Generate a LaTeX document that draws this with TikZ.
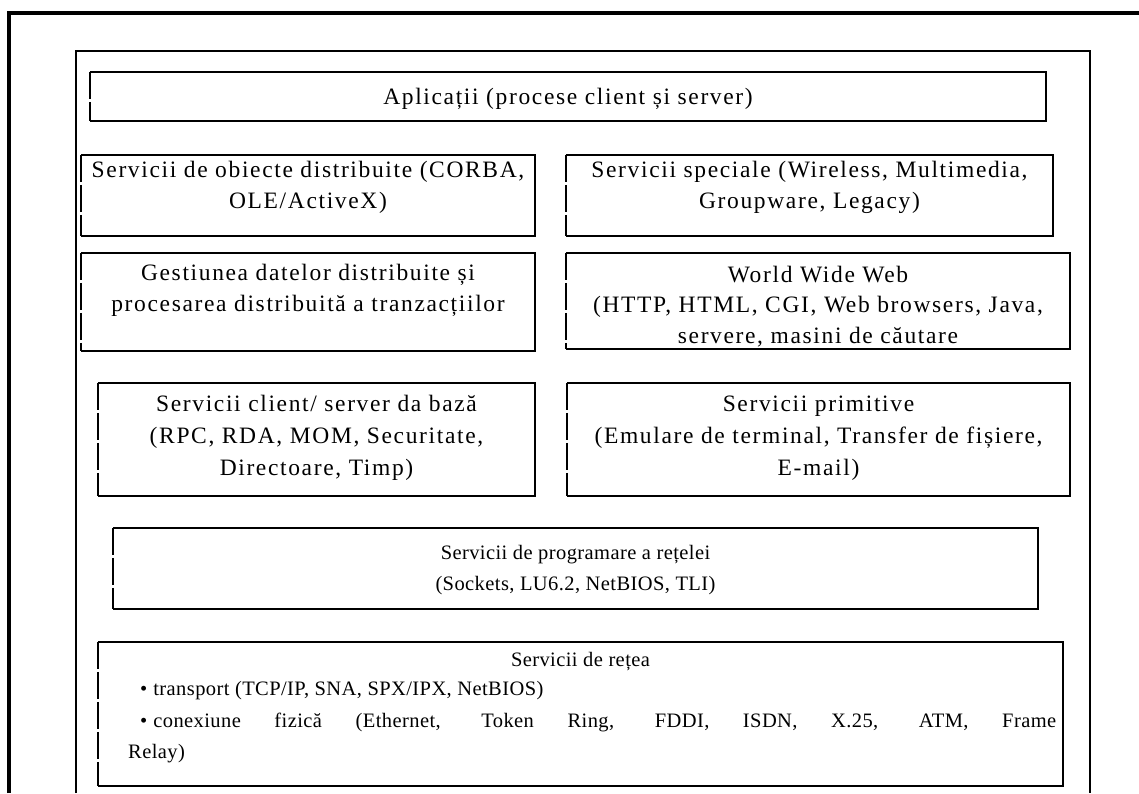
\documentclass[tikz,border=0pt]{standalone}
\usepackage{fontspec}
\setmainfont{Liberation Serif}[LetterSpace=7.0]
\newfontfamily\plainserif{Liberation Serif}[LetterSpace=2.0]
\usetikzlibrary{fit}

\begin{document}
\begin{tikzpicture}[x=1pt,y=-1pt,
  outerframe/.style={line width=4pt},
  innerframe/.style={line width=1.5pt},
  layer/.style={inner sep=0pt},
  edge/.style={line width=1.5pt},
  leftedge/.style={line width=1.5pt, dash pattern=on 27pt off 3pt},
  txt/.style={anchor=base, inner sep=0pt, font=\fontsize{23.5}{31}\selectfont},
  txts/.style={anchor=base, inner sep=0pt, font=\plainserif\fontsize{20.5}{28}\selectfont},
  txtsl/.style={txts, anchor=base west},
]
\useasboundingbox (0,0) rectangle (1139,793);
\fill[white] (0,0) rectangle (1139,793);

% frames
\draw[outerframe] (9,793) -- (9,12.5) -- (1139,12.5);
\draw[innerframe] (76,793) -- (76,51) -- (1090,51) -- (1090,793);

% layer boxes
\node[layer, fit={(90,72) (1046,121)}]   (apl)  {};
\node[layer, fit={(81,155) (535,236)}]   (obj)  {};
\node[layer, fit={(566,155) (1053,236)}] (spec) {};
\node[layer, fit={(81,253) (535,351)}]   (gest) {};
\node[layer, fit={(566,253) (1070,349)}] (www)  {};
\node[layer, fit={(98,383) (535,496)}]   (cs)   {};
\node[layer, fit={(567,383) (1070,496)}] (prim) {};
\node[layer, fit={(113,528) (1038,609)}] (prog) {};
\node[layer, fit={(98,642) (1063,786)}]  (net)  {};

% box outlines: solid top, right and bottom, broken left side
\foreach \b in {apl,obj,spec,gest,www,cs,prim,prog,net}{
  \draw[edge] (\b.north west) -- (\b.north east) -- (\b.south east) -- (\b.south west);
  \draw[leftedge] (\b.north west) -- (\b.south west);
}

% texts
\node[txt] (apl1) at (568,104) {Aplicații (procese client și server)};

\node[txt] (obj1) at (308,177) {Servicii de obiecte distribuite (CORBA,};
\node[txt] (obj2) at (308,208) {OLE/ActiveX)};

\node[txt] (spec1) at (809.5,177) {Servicii speciale (Wireless, Multimedia,};
\node[txt] (spec2) at (809.5,208) {Groupware, Legacy)};

\node[txt] (gest1) at (308,280) {Gestiunea datelor distribuite și};
\node[txt] (gest2) at (308,311) {procesarea distribuită a tranzacțiilor};

\node[txt] (www1) at (818,282) {World Wide Web};
\node[txt] (www2) at (818,312) {(HTTP, HTML, CGI, Web browsers, Java,};
\node[txt] (www3) at (818,343) {servere, masini de căutare};

\node[txt] (cs1) at (316.5,411) {Servicii client/ server da bază};
\node[txt] (cs2) at (316.5,443) {(RPC, RDA, MOM, Securitate,};
\node[txt] (cs3) at (316.5,475) {Directoare, Timp)};

\node[txt] (prim1) at (818.5,411) {Servicii primitive};
\node[txt] (prim2) at (818.5,443) {(Emulare de terminal, Transfer de fișiere,};
\node[txt] (prim3) at (818.5,475) {E-mail)};

\node[txts] (prog1) at (575.5,559) {Servicii de programare a rețelei};
\node[txts] (prog2) at (575.5,590) {(Sockets, LU6.2, NetBIOS, TLI)};

\node[txts]  (net1) at (580.5,666) {Servicii de rețea};
\node[txtsl] (net2) at (140,695) {\hbox{•\hspace{6pt}transport} (TCP/IP, SNA, SPX/IPX, NetBIOS)};
\node[txtsl] (net3) at (140,727) {\makebox[916pt][s]{\hbox{•\hspace{6pt}conexiune} fizică (Ethernet, Token Ring, FDDI, ISDN, X.25, ATM, Frame}};
\node[txtsl] (net4) at (128,758) {Relay)};
\end{tikzpicture}
\end{document}
